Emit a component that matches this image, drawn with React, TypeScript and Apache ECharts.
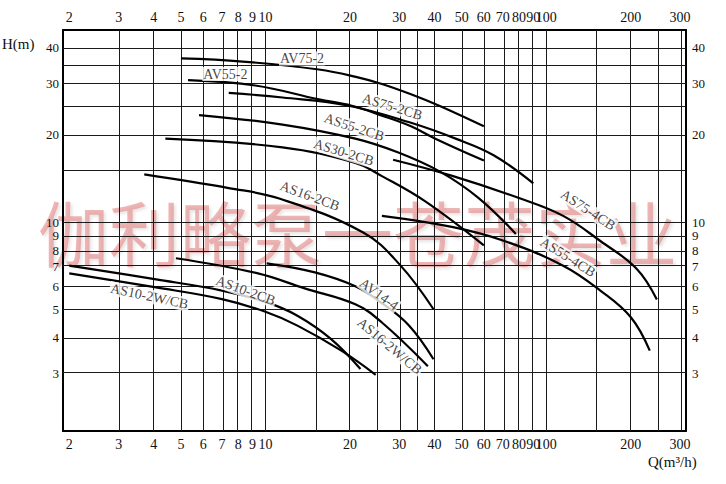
import React, { useEffect, useRef } from "react";
import * as echarts from "echarts";

// Flow Q (m3/h) and head H (m), per pump curve
const AV75_2 = [[5, 36.7], [8.3, 35.8], [15.5, 33.6], [21, 31.7], [26, 29.95], [33, 27.6], [42, 25.1], [60, 21.4]];
const AV55_2 = [[5.3, 30.9], [9.2, 29.6], [15.5, 26.5], [20.3, 25.2], [26, 23.3], [33, 21.4], [40.3, 19.4], [60, 16.3]];
const AS75_2CB = [[7.4, 27.9], [11.5, 26.9], [19.8, 25.2], [33, 22], [47.6, 19.4], [65, 17], [90, 13.6]];
const AS55_2CB = [[5.8, 23.4], [11.5, 21.7], [20.9, 19.4], [29.6, 17.4], [42, 14.9], [57.5, 12.1], [78, 9.1]];
const AS30_2CB = [[4.4, 19.4], [11.5, 18.1], [20.9, 16], [26, 14.4], [37, 11.8], [60, 8.3]];
const AS16_2CB = [[3.7, 14.6], [7.4, 13.1], [11.2, 12.05], [22.3, 9.2], [30.2, 7.1], [39.7, 5]];
const AS75_4CB = [[28.5, 16.4], [46.6, 14.4], [81, 12.05], [115, 10.5], [156, 8.6], [210, 6.9], [248, 5.4]];
const AS55_4CB = [[26, 10.5], [46.6, 9.6], [71, 8.6], [115, 7.07], [156, 5.8], [200, 4.7], [234, 3.6]];
const AV14_4 = [[10.1, 7.2], [15, 6.7], [20.9, 6], [26, 5.25], [32.4, 4.4], [39.7, 3.36]];
const AS16_2WCB = [[4.8, 7.5], [9.4, 6.65], [13.8, 5.9], [20.9, 5.2], [26, 4.5], [37.9, 3.18]];
const AS10_2CB = [[2, 7.07], [4.03, 6.35], [7, 5.8], [10, 5.3], [13, 4.75], [17.1, 3.95], [21.8, 3.11]];
const AS10_2WCB = [[2, 6.65], [4.03, 5.96], [7, 5.42], [10, 4.9], [13, 4.39], [18.7, 3.59], [24.7, 2.97]];

const CURVES = [
  { name: "AV75-2", data: AV75_2 },
  { name: "AV55-2", data: AV55_2 },
  { name: "AS75-2CB", data: AS75_2CB },
  { name: "AS55-2CB", data: AS55_2CB },
  { name: "AS30-2CB", data: AS30_2CB },
  { name: "AS16-2CB", data: AS16_2CB },
  { name: "AS75-4CB", data: AS75_4CB },
  { name: "AS55-4CB", data: AS55_4CB },
  { name: "AV14-4", data: AV14_4 },
  { name: "AS16-2W/CB", data: AS16_2WCB },
  { name: "AS10-2CB", data: AS10_2CB },
  { name: "AS10-2W/CB", data: AS10_2WCB },
];

// Curve labels: [text, Q, H, rotation]
const CURVE_LABELS = [
  ["AV75-2", 13.5, 36.7, 0],
  ["AV55-2", 7.2, 32.4, 0],
  ["AS75-2CB", 28.3, 25, -17],
  ["AS55-2CB", 20.7, 21.25, -18],
  ["AS30-2CB", 19, 17.4, -17],
  ["AS16-2CB", 14.4, 12.3, -20],
  ["AS75-4CB", 141, 11, -33],
  ["AS55-4CB", 119.5, 7.57, -32],
  ["AV14-4", 25.4, 5.63, -36],
  ["AS16-2W/CB", 27.7, 3.73, -40],
  ["AS10-2CB", 8.5, 5.8, -20],
  ["AS10-2W/CB", 3.86, 5.54, -12],
];

const Q_TICKS = [2, 3, 4, 5, 6, 7, 8, 9, 10, 20, 30, 40, 50, 60, 70, 80, 90, 100, 200, 300];
const H_TICKS = [3, 4, 5, 6, 7, 8, 9, 10, 20, 30, 40];
const Q_GRID = [3, 4, 5, 6, 7, 8, 9, 10, 15, 20, 25, 30, 35, 40, 50, 60, 70, 80, 90, 100, 150, 200, 250, 300];
const H_GRID = [3, 4, 5, 6, 7, 8, 9, 10, 15, 20, 25, 30, 35, 40];
const Q_RANGE = [1.9, 315];
const H_RANGE = [1.9, 46];

const WATERMARK = "伽利略泵一苍茂实业";

const lg = (v: number) => Math.log10(v);
const SERIF = "'Liberation Serif', 'DejaVu Serif', serif";

export default function App() {
  const ref = useRef<HTMLDivElement>(null);

  useEffect(() => {
    if (!ref.current) return;
    const chart = echarts.init(ref.current, null, { renderer: "svg" });

    const fmt = (v: number) => String(Math.round(Math.pow(10, v)));
    const axisLabelX = {
      customValues: Q_TICKS.map(lg),
      formatter: fmt,
      fontFamily: SERIF,
      fontSize: 14,
      lineHeight: 12,
      color: "#111",
      margin: 7,
      hideOverlap: false,
    };
    const axisLabelY = {
      customValues: H_TICKS.map(lg),
      formatter: fmt,
      fontFamily: SERIF,
      fontSize: 13,
      lineHeight: 11,
      color: "#111",
      margin: 4,
      hideOverlap: false,
    };
    const axisLine = { show: true, lineStyle: { color: "#000", width: 2 } };

    const xBase = {
      type: "value",
      min: lg(Q_RANGE[0]),
      max: lg(Q_RANGE[1]),
      axisLine,
      axisTick: { show: false },
      splitLine: { show: false },
    };
    const yBase = {
      type: "value",
      min: lg(H_RANGE[0]),
      max: lg(H_RANGE[1]),
      axisLine,
      axisTick: { show: false },
      splitLine: { show: false },
    };

    const series: any[] = CURVES.map((c, i) => ({
      type: "line",
      name: c.name,
      data: c.data.map(([q, h]) => [lg(q), lg(h)]),
      smooth: 0.4,
      showSymbol: false,
      symbol: "none",
      lineStyle: { color: "#000", width: 2.2 },
      z: 3,
      silent: true,
      ...(i === 0
        ? {
            markLine: {
              silent: true,
              symbol: ["none", "none"],
              label: { show: false },
              lineStyle: { color: "#1a1a1a", width: 1, type: "solid" },
              z: 1,
              data: [
                ...Q_GRID.map((q) => ({ xAxis: lg(q) })),
                ...H_GRID.map((h) => ({ yAxis: lg(h) })),
              ],
            },
          }
        : {}),
    }));

    series.push({
      type: "scatter",
      name: "labels",
      symbol: "circle",
      symbolSize: 2,
      itemStyle: { color: "rgba(0,0,0,0)" },
      z: 5,
      silent: true,
      data: CURVE_LABELS.map(([t, q, h, r]) => ({
        value: [lg(q as number), lg(h as number)],
        label: {
          show: true,
          position: "inside",
          formatter: t as string,
          rotate: r as number,
          fontFamily: SERIF,
          fontSize: 14,
          color: "#111",
          backgroundColor: "#fff",
          padding: [0, 1],
        },
      })),
    });

    chart.setOption({
      animation: false,
      backgroundColor: "#fff",
      grid: { left: 63, right: 40, top: 30, bottom: 53 },
      xAxis: [
        { ...xBase, position: "bottom", axisLabel: axisLabelX },
        { ...xBase, position: "top", axisLabel: axisLabelX },
      ],
      yAxis: [
        { ...yBase, position: "left", axisLabel: axisLabelY },
        { ...yBase, position: "right", axisLabel: { ...axisLabelY, margin: 6 } },
      ],
      graphic: [
        {
          type: "text",
          left: 38,
          top: 194,
          z: 0,
          silent: true,
          style: {
            text: WATERMARK,
            font: "normal 71px 'Noto Sans CJK SC'",
            fill: "rgba(222,110,110,0.5)",
            textShadowColor: "rgba(0,0,0,0.2)",
            textShadowBlur: 3,
            textShadowOffsetX: 2,
            textShadowOffsetY: 2,
          },
        },
        {
          type: "text",
          left: 2,
          top: 36,
          style: { text: "H(m)", font: "15px " + SERIF, fill: "#111" },
        },
        {
          type: "text",
          left: 648,
          top: 454,
          style: { text: "Q(m³/h)", font: "15px " + SERIF, fill: "#111" },
        },
      ],
      series,
    });

    return () => chart.dispose();
  }, []);

  return (
    <div
      ref={ref}
      style={{ position: "fixed", left: 0, top: 0, width: 726, height: 484 }}
    />
  );
}
